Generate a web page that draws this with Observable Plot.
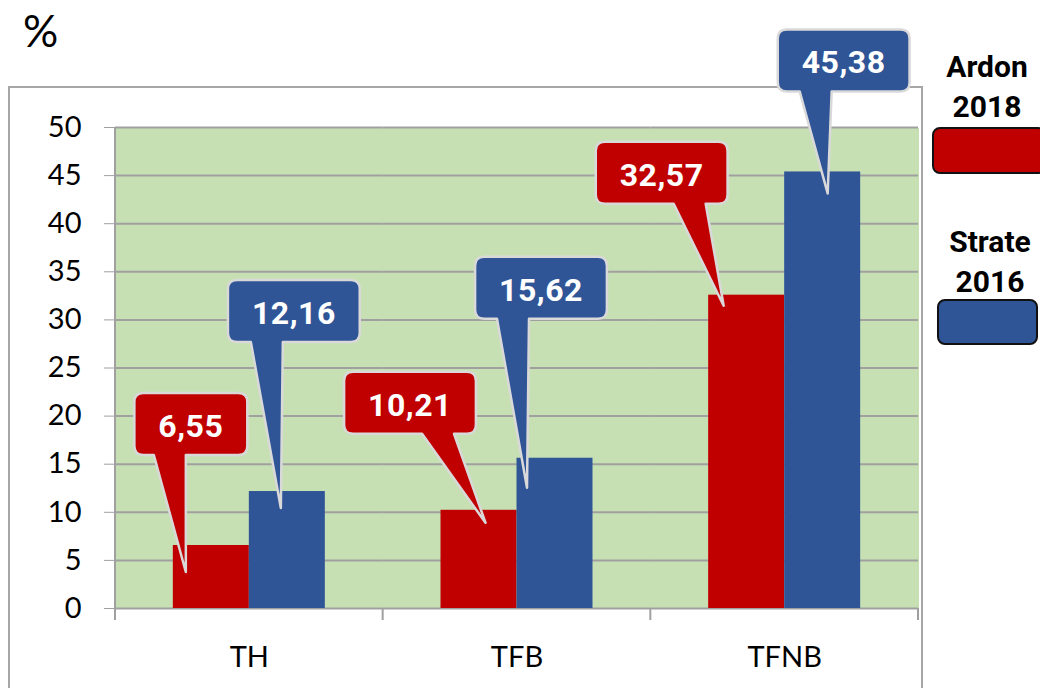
<!DOCTYPE html>
<html><head><meta charset="utf-8">
<script src="https://cdn.jsdelivr.net/npm/d3@7"></script>
<script src="https://cdn.jsdelivr.net/npm/@observablehq/plot@0.6"></script>
<style>
html,body{margin:0;padding:0;background:#fff;overflow:hidden;}
#chart svg{display:block;}
g[aria-label^="y-axis"]{color:#a0a0a0;}
g[aria-label^="y-axis"] text{fill:#000;}
g[aria-label^="fx-axis"] text{fill:#000;}
</style></head><body><div id="chart"></div>
<script>
// ---- data ----
const categories = ["TH", "TFB", "TFNB"];
const seriesNames = ["Ardon 2018", "Strate 2016"];
const ardon2018 = [6.55, 10.21, 32.57];
const strate2016 = [12.16, 15.62, 45.38];
const yTicks = [0, 5, 10, 15, 20, 25, 30, 35, 40, 45, 50];
const unitLabel = "%";

// ---- styles ----
const seriesColors = ["#C00000", "#2F5597"];
const plotFill = "#C6E0B4";
const gridColor = "#a0a0a0";

// ---- layout of the callouts (pixel offsets from the top-centre of each bar), row order ----
const calloutLayout = [
  {boxDx: -20,   boxDy: -152, baseDx: -21, tipDx: -25,   tipDy: 27},
  {boxDx: 7,     boxDy: -211, baseDx: -27, tipDx: -6,    tipDy: 17},
  {boxDx: -68.5, boxDy: -138, baseDx: 28,  tipDx: 7,     tipDy: 13},
  {boxDx: -13.5, boxDy: -201, baseDx: -28, tipDx: -27.5, tipDy: 30},
  {boxDx: -84.5, boxDy: -153, baseDx: 28,  tipDx: -22.5, tipDy: 11},
  {boxDx: 21.5,  boxDy: -142, baseDx: -28, tipDx: 5.5,   tipDy: 22}
];
// legend layout
const legendLayout = [
  {cx: 987, lines: [77, 117], sx: 933, sy: 128, sw: 112, sh: 45},
  {cx: 990, lines: [252, 292], sx: 938, sy: 300, sw: 99, sh: 44}
];

const rows = categories.flatMap((c, i) => [
  {category: c, series: seriesNames[0], value: ardon2018[i]},
  {category: c, series: seriesNames[1], value: strate2016[i]}
]);

const plot = Plot.plot({
  width: 1040, height: 688,
  marginLeft: 115, marginRight: 122, marginTop: 127, marginBottom: 80,
  style: {fontFamily: "Lato, sans-serif", fontSize: "29px", background: "transparent", overflow: "visible", color: "#000"},
  facet: {data: rows, x: "category"},
  fx: {domain: categories, padding: 0, round: false, axis: "bottom", label: null, tickSize: 0, tickPadding: 38},
  x: {domain: seriesNames, paddingInner: 0, paddingOuter: 0.761, round: false, axis: null},
  y: {domain: [0, 50], ticks: yTicks, tickSize: 11, tickPadding: 23, label: null, tickFormat: d => String(d)},
  color: {domain: seriesNames, range: seriesColors},
  marks: [
    Plot.frame({fill: plotFill, stroke: "none", shapeRendering: "crispEdges", insetLeft: -0.5, insetRight: -0.5}),
    Plot.ruleY(yTicks, {stroke: gridColor, strokeWidth: 2}),
    Plot.barY(rows, {x: "series", y: "value", fill: "series"})
  ]
});
document.getElementById("chart").append(plot);
const svgEl = plot.tagName.toLowerCase() === "svg" ? plot : plot.querySelector("svg");
const svg = d3.select(svgEl);

const fx = plot.scale("fx"), xs = plot.scale("x"), ys = plot.scale("y");
const y0 = ys.apply(0), yTop = ys.apply(50);
const left = fx.range[0], right = fx.range[1];

// outer chart border (behind everything)
svg.insert("rect", ":first-child")
  .attr("x", 9).attr("y", 87).attr("width", right + 4 - 9).attr("height", 700)
  .attr("fill", "#fff").attr("stroke", "#a6a6a6").attr("stroke-width", 2);

// value axis line and category boundary ticks
const axisG = svg.append("g").attr("stroke", gridColor).attr("stroke-width", 2);
axisG.append("line").attr("x1", left).attr("x2", left).attr("y1", yTop).attr("y2", y0 + 12);
categories.forEach(c => {
  const xb = fx.apply(c) + fx.bandwidth;
  axisG.append("line").attr("x1", xb).attr("x2", xb).attr("y1", y0).attr("y2", y0 + 12);
});

// unit label
const unit = svg.append("text").attr("x", 25).attr("y", 47).text(unitLabel)
  .attr("font-family", "Lato, sans-serif").attr("font-size", 44).attr("fill", "#000");
const ub = unit.node().getBBox();
unit.attr("x", 25 - (ub.x - 25) - 2);

// callouts
const fmt = d3.formatLocale({decimal: ",", thousands: " ", grouping: [3], currency: ["", ""]}).format(".2f");
rows.forEach((d, i) => {
  const L = calloutLayout[i];
  const barLeft = fx.apply(d.category) + xs.apply(d.series) - xs.range[0];
  const bx = barLeft + xs.bandwidth / 2;
  const by = ys.apply(d.value);
  const g = svg.append("g");
  const cx = bx + L.boxDx, top = by + L.boxDy;
  const txt = g.append("text").attr("x", cx).attr("y", top + 44)
    .attr("text-anchor", "middle").attr("fill", "#fff")
    .attr("font-family", "Roboto, sans-serif").attr("font-weight", "bold").attr("font-size", 32)
    .attr("letter-spacing", 0.5)
    .text(fmt(d.value));
  const tw = txt.node().getComputedTextLength();
  const W = tw + 48, H = 62, r = 9;
  const l = cx - W / 2, R = cx + W / 2, B = top + H;
  const b0 = cx + L.baseDx - 16, b1 = cx + L.baseDx + 16;
  const tx = bx + L.tipDx, ty = by + L.tipDy;
  const p = `M${l + r},${top}H${R - r}Q${R},${top} ${R},${top + r}V${B - r}Q${R},${B} ${R - r},${B}` +
    `H${b1}L${tx},${ty}L${b0},${B}H${l + r}Q${l},${B} ${l},${B - r}V${top + r}Q${l},${top} ${l + r},${top}Z`;
  g.insert("path", "text").attr("d", p).attr("fill", seriesColors[seriesNames.indexOf(d.series)])
    .attr("stroke", "#d9d9d9").attr("stroke-width", 2.5).attr("stroke-linejoin", "round");
});

// legend
seriesNames.forEach((s, i) => {
  const Lg = legendLayout[i];
  const parts = s.split(" ");
  parts.forEach((t, j) => {
    svg.append("text").attr("x", Lg.cx).attr("y", Lg.lines[j]).attr("text-anchor", "middle")
      .attr("font-family", "Roboto, sans-serif").attr("font-weight", "bold").attr("font-size", 30)
      .attr("fill", "#000").text(t);
  });
  svg.append("rect").attr("x", Lg.sx).attr("y", Lg.sy).attr("width", Lg.sw).attr("height", Lg.sh)
    .attr("rx", 7).attr("fill", plot.scale("color").apply(s)).attr("stroke", "#111").attr("stroke-width", 2);
});
</script></body></html>
